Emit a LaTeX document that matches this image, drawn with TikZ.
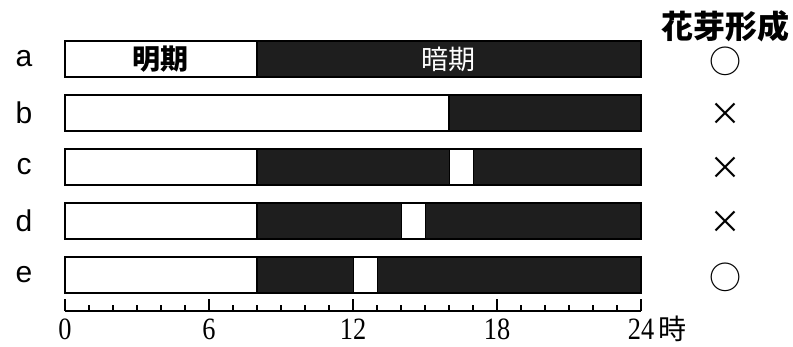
\documentclass[tikz,border=0pt]{standalone}
\usepackage{fontspec}
\setmainfont{Liberation Serif}
\newfontfamily\lsans{Liberation Sans}
\newfontfamily\cjk{Noto Sans CJK JP}
\definecolor{barfill}{HTML}{1E1E1E}
\begin{document}
\begin{tikzpicture}[x=1pt,y=-1pt,
  barline/.style={draw=black,line width=1.3pt},
  rowlab/.style={font=\lsans\fontsize{30}{30}\selectfont,inner sep=0pt},
  numlab/.style={font=\fontsize{31}{31}\selectfont,inner sep=0pt},
  symlab/.style={font=\cjk\fontsize{32}{32}\selectfont,inner sep=0pt}]
\useasboundingbox (0,0) rectangle (793,346);
% bars: x(h)=65+24h, height 36
\foreach \y/\ws/\gs in {41/8/-1, 95/16/-1, 149/8/16, 203/8/14, 257/8/12}{
  \pgfmathsetmacro{\xw}{65+24*\ws}
  \fill[barfill] (\xw,\y) rectangle (641,\y+36);
  \ifnum\gs>0
    \pgfmathsetmacro{\xg}{65+24*\gs}
    \filldraw[fill=white,draw=black,line width=1pt] (\xg,\y) rectangle (\xg+24,\y+36);
  \fi
  \draw[barline] (65,\y) rectangle (641,\y+36);
  \draw[barline] (\xw,\y) -- (\xw,\y+36);
}
% text in bar a
\node[font=\cjk\bfseries\fontsize{28}{28}\selectfont,inner sep=0pt] (light) at (160,59) {明期};
\node[font=\cjk\fontsize{27}{27}\selectfont,text=white,inner sep=0pt] (dark) at (448,59) {暗期};
% row letters
\node[rowlab] (la) at (24,59) {a};
\node[rowlab] (lb) at (24,113) {b};
\node[rowlab] (lc) at (24,167) {c};
\node[rowlab] (ld) at (24,221) {d};
\node[rowlab] (le) at (24,275) {e};
% title and symbols
\node[font=\cjk\bfseries\fontsize{32}{32}\selectfont,inner sep=0pt] (title) at (725,26) {花芽形成};
\node[symlab] (sa) at (725,61) {○};
\node[symlab] (sb) at (725,114) {×};
\node[symlab] (sc) at (725,168) {×};
\node[symlab] (sd) at (725,222) {×};
\node[symlab] (se) at (725,277) {○};
% axis
\draw[line width=1.2pt] (65,311) -- (641,311);
\foreach \h in {0,...,24}{
  \draw[line width=1.2pt] (65+24*\h,305) -- (65+24*\h,311);
}
\foreach \h in {0,6,...,24}{
  \draw[line width=1.2pt] (65+24*\h,299) -- (65+24*\h,311);
}
\node[numlab] (n0) at (65,329) {\scalebox{0.85}[1]{0}};
\node[numlab] (n6) at (209,329) {\scalebox{0.85}[1]{6}};
\node[numlab] (n12) at (353,329) {\scalebox{0.85}[1]{12}};
\node[numlab] (n18) at (497,329) {\scalebox{0.85}[1]{18}};
\node[numlab] (n24) at (641,329) {\scalebox{0.85}[1]{24}};
\node[font=\cjk\fontsize{28}{28}\selectfont,inner sep=0pt,anchor=west] (hr) at ([xshift=4pt]n24.east) {時};
\end{tikzpicture}
\end{document}
